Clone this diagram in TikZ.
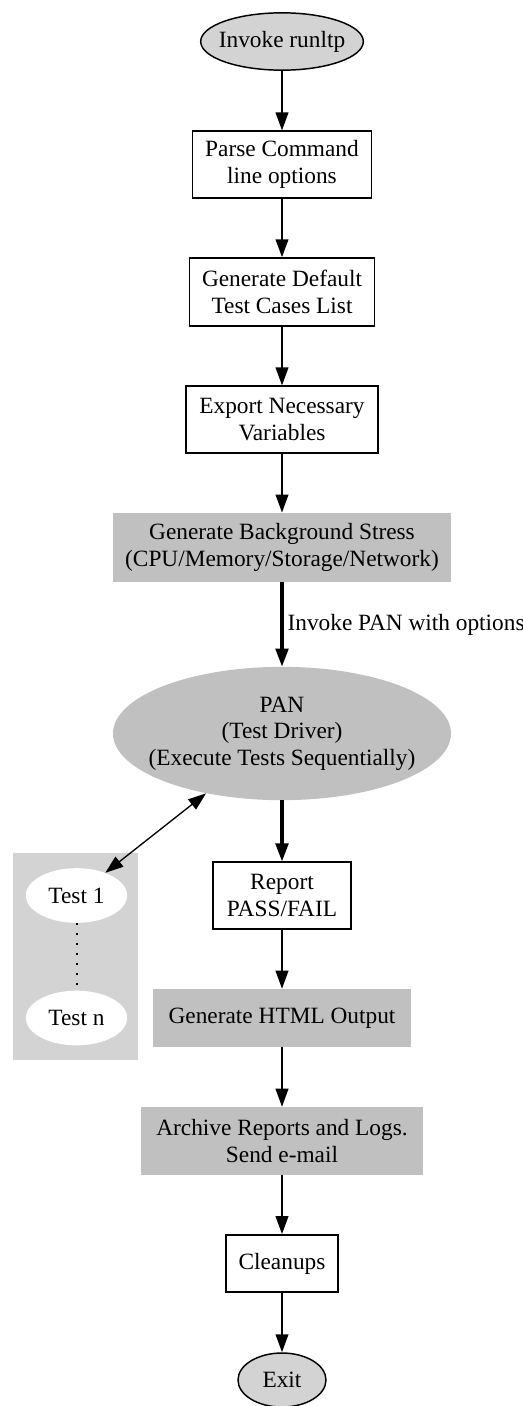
\documentclass[tikz,border=0pt]{standalone}
\usepackage{fontspec}
\setmainfont{Liberation Serif}
\usetikzlibrary{arrows.meta, shapes.geometric, positioning}
\definecolor{lightgrey}{HTML}{D3D3D3}
\definecolor{midgrey}{HTML}{C0C0C0}
\tikzset{
  % Graph arrow style
  garr/.style={
    line width=1.4pt
    , -{Triangle[length=13.5pt, width=9.5pt]}
  },
  % bold graph arrow
  barr/.style={
    garr
    , line width=2.4pt
  },
  % two way arrow to the tests
  darr/.style={
    line width=1pt
    , {Triangle[length=13.5pt, width=9.5pt]}-{Triangle[length=13.5pt, width=9.5pt]}
  },
}
\tikzset{
  % plain step node style
  stepbox/.style={
    draw
    , line width=1.1pt
    , align=center
    , inner sep=0pt
    %, fill=white
  },
  % filled step node style
  greybox/.style={
    fill=midgrey
    , align=center
    , inner sep=0pt
  },
  % start and end ovals
  endoval/.style={
    ellipse
    , draw
    , fill=lightgrey
    , line width=1.1pt
    , inner sep=0pt
  },
  % single test oval
  testoval/.style={
    ellipse
    , fill=white
    , inner sep=0pt
    , minimum width=76pt
    , minimum height=41pt
  },
}

\begin{document}
\begin{tikzpicture}[x=0.75pt, y=-0.75pt, font=\fontsize{17.5pt}{20pt}\selectfont]
  \useasboundingbox (0,0) rectangle (523,1406);
  % main column
  \node[endoval, minimum width=122pt, minimum height=43pt, inner xsep=-6pt]
    (invoke) at (282,41.5) {Invoke runltp};
  \node[stepbox, minimum width=134pt, minimum height=50pt]
    (parse) at (282,164.5) {Parse Command\\line options};
  \node[stepbox, minimum width=139pt, minimum height=51pt]
    (deflist) at (282,292) {Generate Default\\Test Cases List};
  \node[stepbox, minimum width=144pt, minimum height=50pt]
    (export) at (282,419.5) {Export Necessary\\Variables};
  \node[greybox, minimum width=253.5pt, minimum height=52pt]
    (stress) at (282,547.5) {Generate Background Stress\\(CPU/Memory/Storage/Network)};
  \node[ellipse, fill=midgrey, align=center, inner sep=0pt, inner xsep=-12pt
    , minimum width=253.5pt, minimum height=100pt]
    (pan) at (282,733.5) {PAN\\(Test Driver)\\(Execute Tests Sequentially)};
  \node[stepbox, minimum width=103.5pt, minimum height=50pt]
    (report) at (282,895.5) {Report\\PASS/FAIL};
  \node[greybox, minimum width=193pt, minimum height=43.5pt]
    (html) at (282,1018) {Generate HTML Output};
  \node[greybox, minimum width=212pt, minimum height=51pt]
    (archive) at (282,1141) {Archive Reports and Logs.\\Send e-mail};
  \node[stepbox, minimum width=84pt, minimum height=43pt]
    (cleanup) at (282,1263.5) {Cleanups};
  \node[endoval, minimum width=66pt, minimum height=40.5pt]
    (exit) at (282,1380) {Exit};
  % the tests
  \node[fill=lightgrey, inner sep=0pt, minimum width=93.75pt, minimum height=155.25pt]
    (tests) at (75.5,956.5) {};
  \node[testoval] (test1) at (76.5,895.5) {Test 1};
  \node[testoval] (testn) at (76.5,1018) {Test n};

  \draw[garr] (invoke) -- (parse);
  \draw[garr] (parse) -- (deflist);
  \draw[garr] (deflist) -- (export);
  \draw[garr] (export) -- (stress);
  \draw[barr] (stress) -- node[right, inner sep=3pt] {Invoke PAN with options} (pan);
  \draw[darr] (pan) -- (test1);
  \draw[line width=1.5pt, dash pattern=on 1.5pt off 6pt] (test1) -- (testn);
  \draw[barr] (pan) -- (report);
  \draw[garr] (report) -- (html);
  \draw[garr] (html) -- (archive);
  \draw[garr] (archive) -- (cleanup);
  \draw[garr] (cleanup) -- (exit);
\end{tikzpicture}
\end{document}
